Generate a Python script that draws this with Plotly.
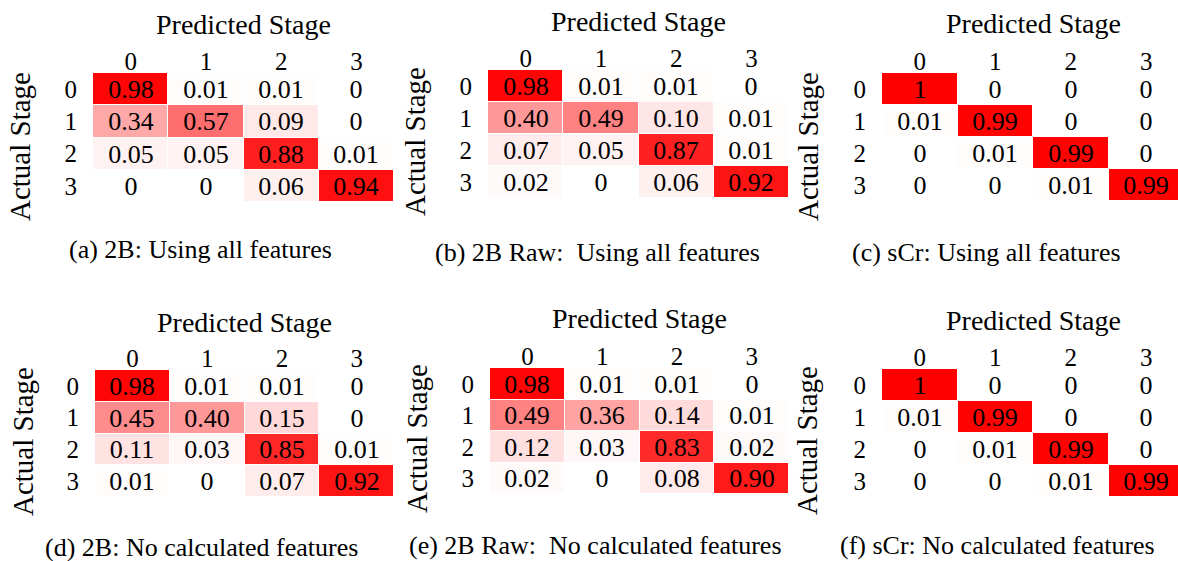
import plotly.graph_objects as go

# Confusion matrices (rows: actual stage, columns: predicted stage)
stages = [0, 1, 2, 3]
stage_labels = ["0", "1", "2", "3"]

cm_2b_all = [
    [0.98, 0.01, 0.01, 0],
    [0.34, 0.57, 0.09, 0],
    [0.05, 0.05, 0.88, 0.01],
    [0, 0, 0.06, 0.94],
]
cm_2b_raw_all = [
    [0.98, 0.01, 0.01, 0],
    [0.40, 0.49, 0.10, 0.01],
    [0.07, 0.05, 0.87, 0.01],
    [0.02, 0, 0.06, 0.92],
]
cm_scr_all = [
    [1, 0, 0, 0],
    [0.01, 0.99, 0, 0],
    [0, 0.01, 0.99, 0],
    [0, 0, 0.01, 0.99],
]
cm_2b_nocalc = [
    [0.98, 0.01, 0.01, 0],
    [0.45, 0.40, 0.15, 0],
    [0.11, 0.03, 0.85, 0.01],
    [0.01, 0, 0.07, 0.92],
]
cm_2b_raw_nocalc = [
    [0.98, 0.01, 0.01, 0],
    [0.49, 0.36, 0.14, 0.01],
    [0.12, 0.03, 0.83, 0.02],
    [0.02, 0, 0.08, 0.90],
]
cm_scr_nocalc = [
    [1, 0, 0, 0],
    [0.01, 0.99, 0, 0],
    [0, 0.01, 0.99, 0],
    [0, 0, 0.01, 0.99],
]

captions = [
    "(a) 2B: Using all features",
    "(b) 2B Raw:  Using all features",
    "(c) sCr: Using all features",
    "(d) 2B: No calculated features",
    "(e) 2B Raw:  No calculated features",
    "(f) sCr: No calculated features",
]
matrices = [cm_2b_all, cm_2b_raw_all, cm_scr_all,
            cm_2b_nocalc, cm_2b_raw_nocalc, cm_scr_nocalc]

W, H = 1178, 561
SERIF = "Liberation Serif"

# Panel placement in pixels: grid box (x0, x1, y0, y1), title/caption anchors
panels = [
    dict(x0=93, x1=394, y0=73, y1=202, ty=25, cy=250, cx=200, ax=20, ay=147),
    dict(x0=488, x1=789, y0=70, y1=198, ty=22, cy=253, cx=597, ax=415, ay=142),
    dict(x0=882, x1=1184, y0=73, y1=201, ty=23, cy=252, cx=986, ax=808, ay=147),
    dict(x0=95, x1=394, y0=370, y1=497, ty=322, cy=547, cx=201, ax=23, ay=442),
    dict(x0=490, x1=789, y0=368, y1=494, ty=318, cy=545, cx=595, ax=417, ay=439),
    dict(x0=882, x1=1184, y0=369, y1=497, ty=320, cy=545, cx=997, ax=807, ay=441),
]


def fmt(v):
    if v == 0:
        return "0"
    if v == 1:
        return "1"
    return f"{v:.2f}"


fig = go.Figure()
annotations = []

for i, (cm, p, cap) in enumerate(zip(matrices, panels, captions), start=1):
    xa = "x" if i == 1 else f"x{i}"
    ya = "y" if i == 1 else f"y{i}"
    fig.add_trace(go.Heatmap(
        z=cm,
        x=stages,
        y=stages,
        text=[[fmt(v) for v in row] for row in cm],
        texttemplate="%{text}",
        textfont=dict(family=SERIF, size=26, color="black"),
        colorscale=[[0, "#ffffff"], [1, "#ff0000"]],
        zmin=0, zmax=1,
        xgap=1, ygap=1,
        showscale=False,
        hoverinfo="skip",
        xaxis=xa, yaxis=ya,
    ))

    cell_w = (p["x1"] - p["x0"]) / 4
    x_right = min(p["x1"], W)
    x_hi = 3.5 - (p["x1"] - x_right) / cell_w
    axis_common = dict(
        showgrid=False, zeroline=False, showline=False, ticks="",
        tickmode="array", tickvals=stages, ticktext=stage_labels,
        tickfont=dict(family=SERIF, size=25, color="black"),
        fixedrange=True,
    )
    fig.layout[f"xaxis{'' if i == 1 else i}"] = dict(
        domain=[p["x0"] / W, x_right / W],
        range=[-0.5, x_hi], side="top", anchor=ya,
        ticklabelstandoff=-3, **axis_common,
    )
    fig.layout[f"yaxis{'' if i == 1 else i}"] = dict(
        domain=[1 - p["y1"] / H, 1 - p["y0"] / H],
        range=[3.5, -0.5], anchor=xa,
        ticklabelstandoff=15, **axis_common,
    )

    # Axis titles and panel caption
    annotations.append(dict(
        text="Predicted Stage", xref="paper", yref="paper",
        x=(p["x0"] + p["x1"]) / 2 / W, y=1 - p["ty"] / H,
        showarrow=False, xanchor="center", yanchor="middle",
        font=dict(family=SERIF, size=28, color="black"),
    ))
    annotations.append(dict(
        text="Actual Stage", xref="paper", yref="paper",
        x=p["ax"] / W, y=1 - p["ay"] / H, textangle=-90,
        showarrow=False, xanchor="center", yanchor="middle",
        font=dict(family=SERIF, size=29, color="black"),
    ))
    annotations.append(dict(
        text=cap.replace("  ", "\u2002"), xref="paper", yref="paper",
        x=p["cx"] / W, y=1 - p["cy"] / H,
        showarrow=False, xanchor="center", yanchor="middle",
        font=dict(family=SERIF, size=26, color="black"),
    ))

fig.update_layout(
    width=W, height=H,
    margin=dict(l=0, r=0, t=0, b=0),
    paper_bgcolor="white", plot_bgcolor="white",
    annotations=annotations,
    showlegend=False,
    font=dict(family=SERIF, color="black"),
)

fig.write_html("out.html")
